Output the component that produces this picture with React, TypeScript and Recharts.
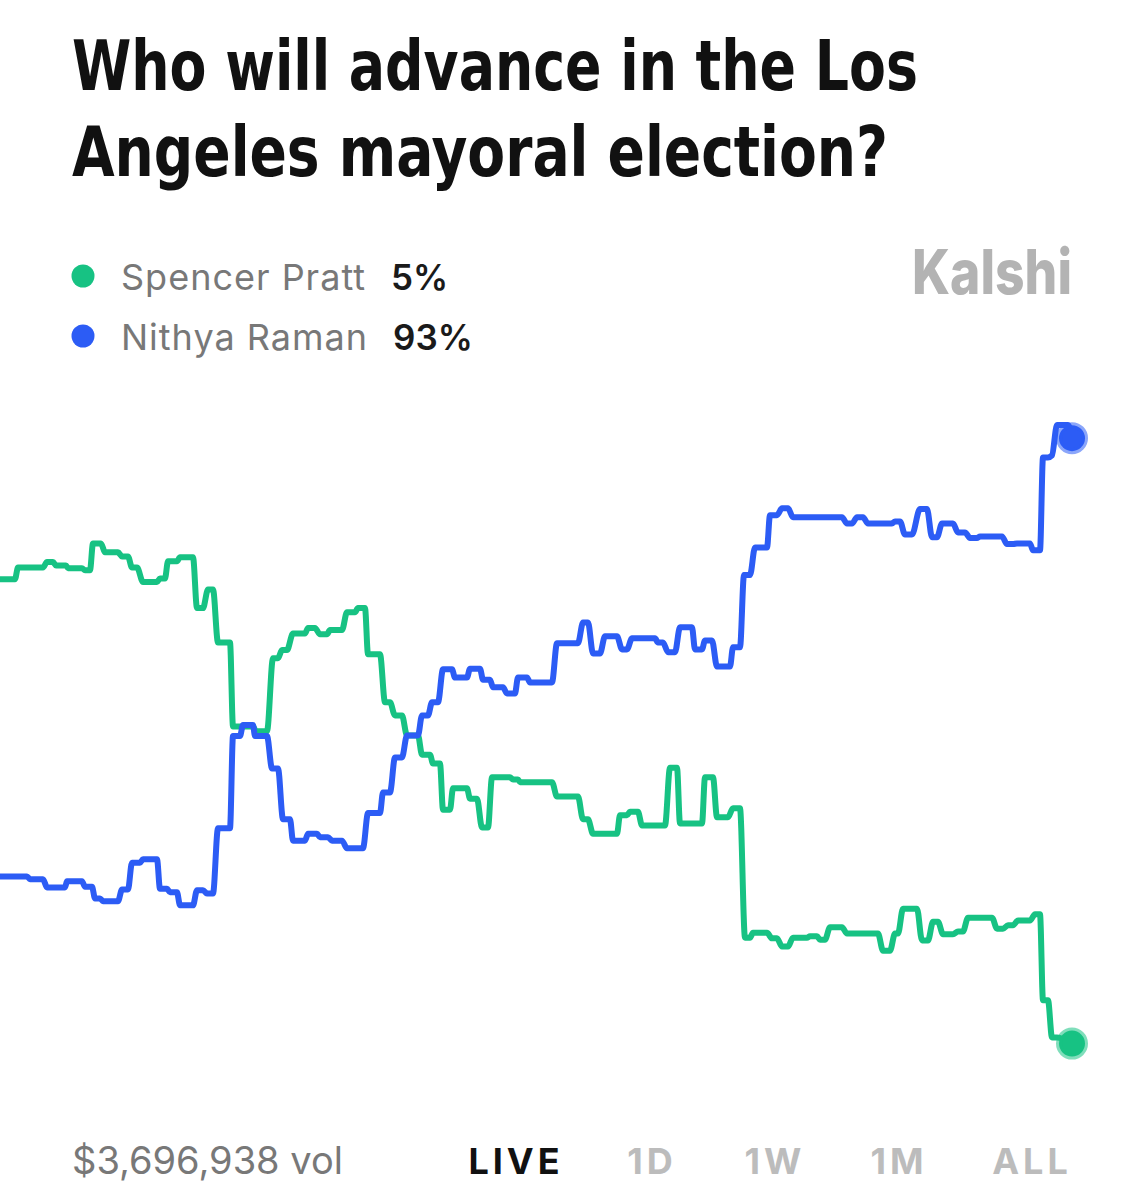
import React from "react";
import { LineChart, Line, XAxis, YAxis, ReferenceDot } from "recharts";

// --- Spencer Pratt (green): flat price steps, start tick / end tick / chance % ---
const prattFrom = [0, 18, 47, 56, 68, 85, 93, 105, 122, 132, 143, 160, 168, 180, 197, 208, 218, 233, 256, 273, 282, 293, 308, 320, 330, 347, 358, 368, 385, 395, 407, 422, 433, 443, 453, 470, 482, 492, 513, 520, 557, 583, 593, 620, 630, 642, 670, 680, 705, 717, 733, 745, 753, 772, 782, 793, 810, 820, 830, 847, 883, 895, 903, 922, 933, 943, 958, 968, 997, 1008, 1018, 1035, 1043, 1052, 1072];
const prattTo = [15, 43, 53, 66, 82, 90, 101, 118, 128, 137, 157, 165, 177, 193, 203, 213, 230, 253, 267, 278, 287, 305, 315, 327, 342, 355, 365, 380, 390, 402, 418, 430, 440, 450, 467, 477, 488, 510, 518, 552, 578, 588, 617, 627, 638, 665, 677, 702, 713, 728, 740, 750, 767, 777, 788, 807, 817, 825, 842, 878, 890, 898, 917, 928, 938, 953, 963, 992, 1003, 1013, 1030, 1040, 1048, 1057, 1072];
const prattValues = [72.5, 74.2, 75.0, 74.5, 74.1, 73.8, 77.7, 76.4, 75.8, 74.2, 72.1, 72.6, 75.1, 75.7, 68.3, 71.0, 63.3, 51.1, 50.4, 61.0, 62.2, 64.6, 65.4, 64.5, 65.1, 67.7, 68.3, 61.6, 54.6, 52.7, 49.8, 47.0, 45.7, 39.0, 42.1, 40.6, 36.4, 43.7, 43.4, 43.0, 40.9, 37.6, 35.5, 38.2, 38.7, 36.7, 45.1, 37.0, 43.7, 37.9, 39.2, 20.4, 21.1, 20.3, 19.1, 20.4, 20.6, 20.1, 21.9, 21.0, 18.5, 21.0, 24.6, 20.0, 22.7, 20.9, 21.3, 23.3, 21.7, 22.2, 22.9, 23.8, 11.3, 5.9, 5.0];

// --- Nithya Raman (blue) ---
const ramanFrom = [0, 30, 47, 67, 85, 95, 103, 122, 132, 143, 160, 170, 180, 197, 207, 218, 233, 243, 255, 272, 283, 293, 308, 320, 332, 347, 368, 383, 395, 407, 422, 432, 443, 455, 470, 483, 493, 507, 518, 530, 557, 583, 593, 605, 622, 632, 658, 668, 680, 695, 705, 717, 733, 744, 755, 770, 782, 793, 847, 857, 868, 895, 905, 920, 932, 942, 958, 970, 980, 1007, 1017, 1033, 1043, 1052, 1057, 1072];
const ramanTo = [27, 43, 65, 82, 92, 100, 118, 128, 140, 157, 167, 177, 193, 203, 213, 230, 240, 253, 267, 278, 290, 305, 317, 328, 342, 363, 380, 390, 402, 418, 428, 438, 452, 467, 480, 490, 503, 515, 527, 552, 578, 588, 600, 617, 627, 655, 663, 675, 692, 702, 712, 730, 740, 750, 767, 777, 788, 842, 852, 863, 892, 900, 912, 927, 937, 953, 965, 977, 1002, 1013, 1030, 1040, 1048, 1052, 1068, 1072];
const ramanValues = [29.3, 28.9, 27.7, 28.6, 27.8, 26.1, 25.7, 27.4, 31.3, 31.8, 27.5, 27.0, 25.1, 27.3, 26.8, 36.3, 49.7, 51.3, 49.7, 45.0, 37.6, 34.5, 35.5, 35.0, 34.5, 33.4, 38.5, 41.5, 46.6, 49.8, 52.7, 54.6, 59.4, 58.2, 59.5, 57.9, 56.8, 55.9, 58.2, 57.5, 63.2, 66.2, 61.7, 64.2, 62.3, 63.9, 63.3, 61.9, 65.5, 62.3, 63.6, 59.8, 62.6, 73.1, 77.1, 81.8, 82.8, 81.5, 80.6, 81.5, 80.6, 80.9, 79.0, 82.7, 78.6, 80.6, 79.3, 78.5, 78.7, 77.6, 77.7, 76.7, 90.2, 90.5, 94.9, 93.0];

const titleLines = ["Who will advance in the Los", "Angeles mayoral election?"];
const names = ["Spencer Pratt", "Nithya Raman"];
const current = ["5%", "93%"];
const volume = "$3,696,938 vol";
const ranges = ["LIVE", "1D", "1W", "1M", "ALL"];

const GREEN = "#17c283";
const BLUE = "#2c5cf5";

function toPoints(from: number[], to: number[], vals: number[]) {
  const pts: { t: number; v: number }[] = [];
  from.forEach((f, i) => {
    pts.push({ t: f, v: vals[i] });
    if (to[i] !== f) pts.push({ t: to[i], v: vals[i] });
  });
  return pts;
}

const prattData = toPoints(prattFrom, prattTo, prattValues);
const ramanData = toPoints(ramanFrom, ramanTo, ramanValues);
const prattLast = prattData[prattData.length - 1];
const ramanLast = ramanData[ramanData.length - 1];

const SANS = "Inter, 'Noto Sans', sans-serif";
const CONDENSED = "'DejaVu Sans Condensed', 'DejaVu Sans', sans-serif";

export default function App() {
  const rangeX = [516, 652, 775, 899, 1032];
  const titleWidths = [846, 816];
  return (
    <div style={{ position: "absolute", left: 0, top: 0, width: 1137, height: 1200, background: "#fff", overflow: "hidden" }}>
      <svg width={1137} height={1200} style={{ position: "absolute", left: 0, top: 0 }}>
        {/* title */}
        {titleLines.map((line, i) => (
          <text key={line} x={72} y={90 + i * 86} fontFamily={CONDENSED} fontStretch="condensed" fontWeight={700}
            fontSize={70} fill="#111" textLength={titleWidths[i]} lengthAdjust="spacingAndGlyphs">
            {line}
          </text>
        ))}

        {/* legend */}
        {names.map((n, i) => (
          <g key={n}>
            <circle cx={83} cy={276 + i * 60} r={11.5} fill={i === 0 ? GREEN : BLUE} />
            <text x={121} y={290 + i * 60} fontFamily={SANS} fontSize={36} letterSpacing={1} fill="#787878">{n}</text>
            <text x={i === 0 ? 391 : 393} y={290 + i * 60} fontFamily={SANS} fontWeight={600} fontSize={35} fill="#1a1a1a">
              {current[i]}
            </text>
          </g>
        ))}

        {/* brand */}
        <text x={912} y={294} fontFamily={SANS} fontWeight={800} fontSize={62} fill="#b3b3b3"
          textLength={160} lengthAdjust="spacingAndGlyphs">
          Kalshi
        </text>

        {/* footer */}
        <text x={72} y={1174} fontFamily={SANS} fontSize={38} fill="#787878">{volume}</text>
        {ranges.map((r, i) => (
          <text key={r} x={rangeX[i]} y={1174} textAnchor="middle" fontFamily={SANS} fontWeight={700} fontSize={36}
            letterSpacing={4} fill={i === 0 ? "#111" : "#bcbcbc"}>
            {r}
          </text>
        ))}
      </svg>

      <div style={{ position: "absolute", left: 0, top: 390 }}>
        <LineChart width={1137} height={688} margin={{ top: 0, right: 0, bottom: 0, left: 0 }}>
          <XAxis dataKey="t" type="number" domain={[0, 1137]} hide allowDuplicatedCategory={false} />
          <YAxis type="number" domain={[0, 100]} hide />
          <Line data={prattData} dataKey="v" type="monotone" stroke={GREEN} strokeWidth={6}
            dot={false} activeDot={false} isAnimationActive={false} strokeLinejoin="round" />
          <Line data={ramanData} dataKey="v" type="monotone" stroke={BLUE} strokeWidth={6}
            dot={false} activeDot={false} isAnimationActive={false} strokeLinejoin="round" />
          <ReferenceDot x={ramanLast.t} y={ramanLast.v} r={13} fill={BLUE} stroke={BLUE} strokeOpacity={0.55} strokeWidth={6} ifOverflow="visible" />
          <ReferenceDot x={prattLast.t} y={prattLast.v} r={13} fill={GREEN} stroke={GREEN} strokeOpacity={0.55} strokeWidth={6} ifOverflow="visible" />
        </LineChart>
      </div>
    </div>
  );
}
